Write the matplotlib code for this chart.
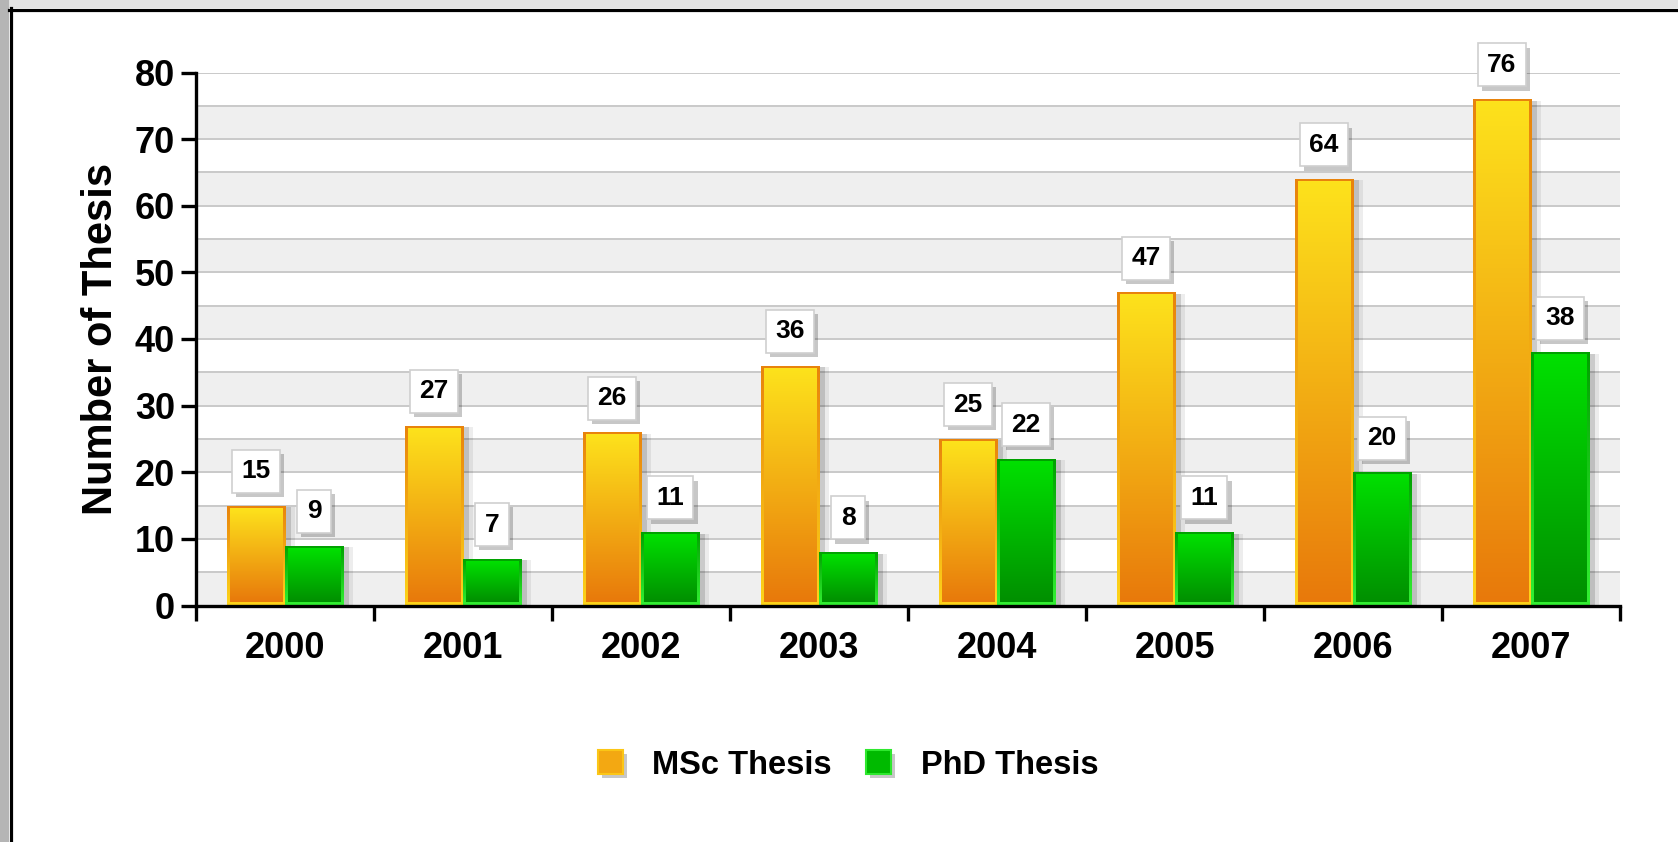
"""Nombre de theses MSc / PhD par annee - bar chart groupe avec degrade."""

import numpy as np
import matplotlib

matplotlib.use("Agg")
import matplotlib.pyplot as plt
import matplotlib.patheffects as pe
from matplotlib.colors import LinearSegmentedColormap
from matplotlib.patches import Rectangle
from matplotlib.lines import Line2D


years = ["2000", "2001", "2002", "2003", "2004", "2005", "2006", "2007"]
msc_counts = [15, 27, 26, 36, 25, 47, 64, 76]
phd_counts = [9, 7, 11, 8, 22, 11, 20, 38]
series_names = ["MSc Thesis", "PhD Thesis"]
y_ticks = [0, 10, 20, 30, 40, 50, 60, 70, 80]

plt.rcParams["font.family"] = ["Liberation Sans", "DejaVu Sans"]
plt.rcParams["font.weight"] = "bold"

W, H, DPI = 1678, 842, 100
fig = plt.figure(figsize=(W / DPI, H / DPI), dpi=DPI, facecolor="white")
ax = fig.add_axes([196 / W, 1 - 605.5 / H, (1620 - 196) / W, (605.5 - 72.5) / H])

x = np.arange(len(years))
width = 0.326

# bandes grises alternees + grille tous les 5
for lo in y_ticks[:-1]:
    ax.axhspan(lo, lo + 5, color="#efefef", lw=0, zorder=0)
ax.set_yticks(y_ticks)
ax.set_yticks(np.arange(0, 81, 5), minor=True)
ax.grid(True, which="both", axis="y", color="#c9c9c9", lw=1.4, zorder=1)
ax.set_axisbelow(True)

shadow = [
    pe.SimplePatchShadow(offset=(7, -1), shadow_rgbFace="k", alpha=0.07),
    pe.SimplePatchShadow(offset=(4, -1), shadow_rgbFace="k", alpha=0.14),
    pe.Normal(),
]

msc_bars = ax.bar(x - width / 2, msc_counts, width, color="#f2a50f", lw=0, zorder=3)
phd_bars = ax.bar(x + width / 2, phd_counts, width, color="#00b000", lw=0, zorder=3)
for bar in list(msc_bars) + list(phd_bars):
    bar.set_path_effects(shadow)

ax.set_xlim(-0.5, len(years) - 0.5)
ax.set_ylim(0, 80)

bbox = ax.get_window_extent()
px_x = (ax.get_xlim()[1] - ax.get_xlim()[0]) / bbox.width
px_y = (ax.get_ylim()[1] - ax.get_ylim()[0]) / bbox.height
grad = np.linspace(0, 1, 256).reshape(-1, 1)


def gradient_bar(patch, fill, edge, border=3):
    """Remplit la barre avec un degrade, bordure en degrade inverse."""
    bx, by = patch.get_x(), patch.get_y()
    bw, bh = patch.get_width(), patch.get_height()
    for colors, inset in ((edge, 0), (fill, border)):
        cmap = LinearSegmentedColormap.from_list("g", colors)
        im = ax.imshow(
            grad,
            cmap=cmap,
            aspect="auto",
            origin="upper",
            interpolation="bilinear",
            extent=(bx + inset * px_x, bx + bw - inset * px_x,
                    by + inset * px_y, by + bh - inset * px_y),
            zorder=4,
        )
        im.set_clip_path(patch)


for bar in msc_bars:
    gradient_bar(bar, ["#fde21c", "#e8790b"], ["#e8830c", "#fdd41a"])
for bar in phd_bars:
    gradient_bar(bar, ["#00e000", "#008f00"], ["#00a000", "#33f033"])

ax.set_xlim(-0.5, len(years) - 0.5)
ax.set_ylim(0, 80)

box_shadow = [
    pe.SimplePatchShadow(offset=(3, -3), shadow_rgbFace="k", alpha=0.22),
    pe.Normal(),
]


def value_label(xpos, val):
    ann = ax.annotate(
        str(val),
        xy=(xpos, val),
        xytext=(0, 16),
        textcoords="offset points",
        ha="center",
        va="bottom",
        fontsize=19,
        fontweight="bold",
        color="black",
        zorder=6,
        annotation_clip=False,
        bbox=dict(boxstyle="square,pad=0.36", fc="white", ec="#cfcfcf", lw=1.2),
    )
    ann.get_bbox_patch().set_path_effects(box_shadow)


for bars, vals in ((msc_bars, msc_counts), (phd_bars, phd_counts)):
    for bar, v in zip(bars, vals):
        value_label(bar.get_x() + bar.get_width() / 2, v)

# axes
for side in ("top", "right"):
    ax.spines[side].set_visible(False)
for side in ("left", "bottom"):
    ax.spines[side].set_linewidth(2.4)
    ax.spines[side].set_color("black")
    ax.spines[side].set_zorder(7)

ax.set_xticks(x)
ax.set_xticklabels(years)
ax.set_xticks(np.arange(-0.5, len(years), 1), minor=True)
ax.tick_params(axis="x", which="major", length=0, pad=18, labelsize=26)
ax.tick_params(axis="x", which="minor", length=11, width=2.4, direction="out")
ax.tick_params(axis="y", which="major", length=11, width=2.4, pad=4, labelsize=26)
ax.tick_params(axis="y", which="minor", length=0)
for lab in ax.get_xticklabels() + ax.get_yticklabels():
    lab.set_fontweight("bold")

ax.set_ylabel("Number of Thesis", fontsize=30, fontweight="bold", labelpad=10)

handles = [
    Rectangle((0, 0), 1, 1, fc="#f3a812", ec="#fbc616", lw=1.5),
    Rectangle((0, 0), 1, 1, fc="#00ba00", ec="#2ee82e", lw=1.5),
]
leg = fig.legend(
    handles, series_names,
    loc="center", bbox_to_anchor=(848 / W, 1 - 765 / H),
    ncol=2, frameon=False, fontsize=23.5,
    handlelength=0.77, handleheight=0.77,
    handletextpad=0.9, columnspacing=1.05,
)
for t in leg.get_texts():
    t.set_fontweight("bold")
for h in leg.legend_handles:
    h.set_path_effects(box_shadow)

# cadre de capture d'ecran (bande grise + trait noir en haut et a gauche)
fig.patches.append(Rectangle((0, 1 - 8 / H), 1, 8 / H, transform=fig.transFigure,
                             fc="#e3e3e3", ec="none", zorder=0))
fig.patches.append(Rectangle((0, 0), 9 / W, 1, transform=fig.transFigure,
                             fc="#b5b5b5", ec="none", zorder=0))
fig.lines.append(Line2D([9 / W, 1], [1 - 9.5 / H] * 2, transform=fig.transFigure,
                        color="black", lw=2.3))
fig.lines.append(Line2D([10.5 / W] * 2, [0, 1 - 8 / H], transform=fig.transFigure,
                        color="black", lw=2.3))

fig.savefig("out.png", dpi=DPI)
